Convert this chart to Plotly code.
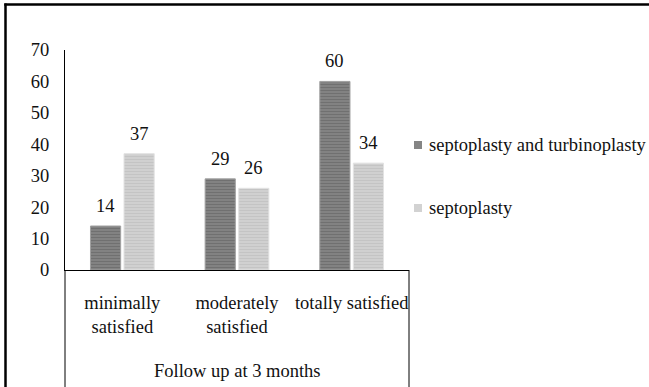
import plotly.graph_objects as go

categories = ["minimally<br>satisfied", "moderately<br>satisfied", "totally satisfied"]
series_names = ["septoplasty and turbinoplasty", "septoplasty"]
combined_values = [14, 29, 60]
septo_values = [37, 26, 34]
y_ticks = [0, 10, 20, 30, 40, 50, 60, 70]
axis_title = "Follow up at 3 months"

FONT = "Liberation Serif"
FS = 18.5
INK = "#111111"

styles = [
    dict(color="#858585", fg="#5c5c5c", line="#a0a0a0"),
    dict(color="#d2d2d2", fg="#b5b5b5", line="#e2e2e2"),
]

BARGAP, GROUPGAP = 0.415, 0.1
PLOT_W = 344
cat_px = PLOT_W / len(categories)
slot = (1 - BARGAP) / len(series_names)

fig = go.Figure()
for k, (name, vals, st) in enumerate(zip(series_names, [combined_values, septo_values], styles)):
    fig.add_trace(go.Bar(
        name=name,
        x=categories,
        y=vals,
        marker=dict(
            color=st["color"],
            line=dict(color=st["line"], width=1),
            pattern=dict(shape="-", fgcolor=st["fg"], size=3, solidity=0.45,
                         fillmode="overlay"),
        ),
        showlegend=False,
    ))
    # value labels above each bar
    shift = (-(1 - BARGAP) / 2 + slot * (k + 0.5)) * cat_px
    for cat, v in zip(categories, vals):
        fig.add_annotation(x=cat, y=v, xshift=shift, yshift=8,
                           yanchor="bottom", text=str(v), showarrow=False,
                           font=dict(family=FONT, size=FS, color=INK))

fig.update_layout(
    width=649, height=387,
    margin=dict(l=65, r=240, t=50, b=117, autoexpand=False),
    paper_bgcolor="white", plot_bgcolor="white",
    barmode="group", bargap=BARGAP, bargroupgap=GROUPGAP,
    font=dict(family=FONT, size=FS, color=INK),
)

fig.update_yaxes(
    range=[0, 70], tickvals=y_ticks, ticks="", showgrid=False,
    showline=True, linecolor="#000000", linewidth=1,
    ticklabelstandoff=11, zeroline=False, automargin=False,
    tickfont=dict(family=FONT, size=FS, color=INK),
)
fig.update_xaxes(
    showline=True, linecolor="#000000", linewidth=1, ticks="",
    tickfont=dict(family=FONT, size=FS, color=INK),
    ticklabelstandoff=16, automargin=False,
)

px_x = lambda p: (p - 65) / 344
px_y = lambda p: (270 - p) / 220

# x-axis title placed in the table area under the category labels
fig.add_annotation(xref="paper", yref="paper", x=0.5, y=px_y(371),
                   xanchor="center", yanchor="middle", text=axis_title,
                   showarrow=False, font=dict(family=FONT, size=FS, color=INK))

# table-style extensions of the axis frame below the plot
frame_bottom = -117 / 220
fig.add_shape(type="line", xref="paper", yref="paper", x0=0, x1=0,
              y0=0, y1=frame_bottom, line=dict(color="#000000", width=1))
fig.add_shape(type="line", xref="paper", yref="paper", x0=1, x1=1,
              y0=0, y1=frame_bottom, line=dict(color="#000000", width=1))

# outer border (top and left edges)
fig.add_shape(type="line", xref="paper", yref="paper", x0=px_x(4.3), x1=px_x(649),
              y0=px_y(4.5), y1=px_y(4.5), line=dict(color="#000000", width=2.5))
fig.add_shape(type="line", xref="paper", yref="paper", x0=px_x(5.5), x1=px_x(5.5),
              y0=px_y(3.5), y1=px_y(390), line=dict(color="#000000", width=2.5))

# legend on the right
legend_rows = [145, 208]
for name, st, yc in zip(series_names, styles, legend_rows):
    fig.add_shape(type="rect", xref="paper", yref="paper",
                  x0=px_x(414), x1=px_x(422), y0=px_y(yc - 4), y1=px_y(yc + 4),
                  fillcolor=st["color"], line=dict(width=0))
    fig.add_annotation(xref="paper", yref="paper", x=px_x(427), y=px_y(yc),
                       xanchor="left", yanchor="middle", text=name,
                       showarrow=False, font=dict(family=FONT, size=FS, color=INK))

fig.write_html("out.html")
